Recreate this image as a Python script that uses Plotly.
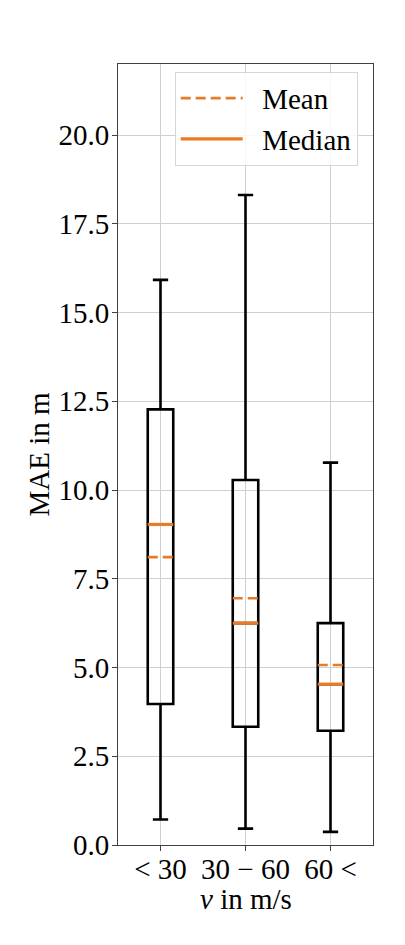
import plotly.graph_objects as go

# speed classes and box statistics of the MAE (m)
CATEGORIES = ["&lt; 30", "30 \u2212 60", "60 &lt;"]
Q1 = [3.97, 3.33, 3.22]
Q3 = [12.27, 10.28, 6.25]
MEDIAN = [9.03, 6.25, 4.53]
MEAN = [8.11, 6.95, 5.07]
LOWER = [0.72, 0.46, 0.37]
UPPER = [15.92, 18.31, 10.77]
Y_TICKS = [0, 2.5, 5, 7.5, 10, 12.5, 15, 17.5, 20]

ORANGE = "#ea7a26"
GRID = "#cfcfcf"
SPINE = "#404040"
FONT = "Liberation Serif, DejaVu Serif, serif"
FS = 29
BOX_W = 0.3

pos = list(range(len(CATEGORIES)))

fig = go.Figure()
for i in pos:
    fig.add_trace(go.Box(
        x=[i], q1=[Q1[i]], median=[MEDIAN[i]], q3=[Q3[i]],
        lowerfence=[LOWER[i]], upperfence=[UPPER[i]],
        width=BOX_W, whiskerwidth=0.6,
        line=dict(color="black", width=2.6),
        fillcolor="rgba(0,0,0,0)",
        boxpoints=False, showlegend=False, hoverinfo="skip",
    ))


def seg(values):
    xs, ys = [], []
    for i, v in zip(pos, values):
        xs += [i - BOX_W / 2, i + BOX_W / 2, None]
        ys += [v, v, None]
    return xs, ys


mx, my = seg(MEAN)
fig.add_trace(go.Scatter(
    x=mx, y=my, mode="lines", name="\u2002Mean",
    line=dict(color=ORANGE, width=2.6, dash="10px,5px"),
))
dx, dy = seg(MEDIAN)
fig.add_trace(go.Scatter(
    x=dx, y=dy, mode="lines", name="\u2002Median",
    line=dict(color=ORANGE, width=3.2),
))

axis_common = dict(
    showline=True, linecolor=SPINE, linewidth=1, mirror=True,
    ticks="outside", ticklen=5, tickwidth=1, tickcolor=SPINE,
    showgrid=True, gridcolor=GRID, gridwidth=1, zeroline=False,
    tickfont=dict(size=FS, color="black", family=FONT),
    automargin=False,
)

# the page body adds an 8px offset, so margins are trimmed by that much
fig.update_layout(
    width=405, height=945,
    paper_bgcolor="white", plot_bgcolor="white",
    margin=dict(l=110, r=40, t=56, b=108),
    font=dict(family=FONT, color="black", size=FS),
    xaxis=dict(
        **axis_common,
        range=[-0.5, 2.5], tickvals=pos, ticktext=CATEGORIES,
        ticklabelstandoff=-7,
    ),
    yaxis=dict(
        **axis_common,
        range=[0, 22], tickvals=Y_TICKS, tickformat=".1f",
        ticklabelstandoff=-3,
        title=dict(text="MAE in m", font=dict(size=FS), standoff=0),
    ),
    legend=dict(
        x=0.94, y=0.99, xanchor="right", yanchor="top",
        bgcolor="rgba(255,255,255,0.85)", bordercolor="#d6d6d6", borderwidth=1,
        font=dict(size=FS, family=FONT), itemwidth=62,
    ),
)
fig.add_annotation(
    text="<i>v</i> in m/s", xref="paper", yref="paper",
    x=0.5, y=-0.069, xanchor="center", yanchor="middle",
    showarrow=False, font=dict(size=FS, family=FONT),
)

fig.write_html("out.html")
